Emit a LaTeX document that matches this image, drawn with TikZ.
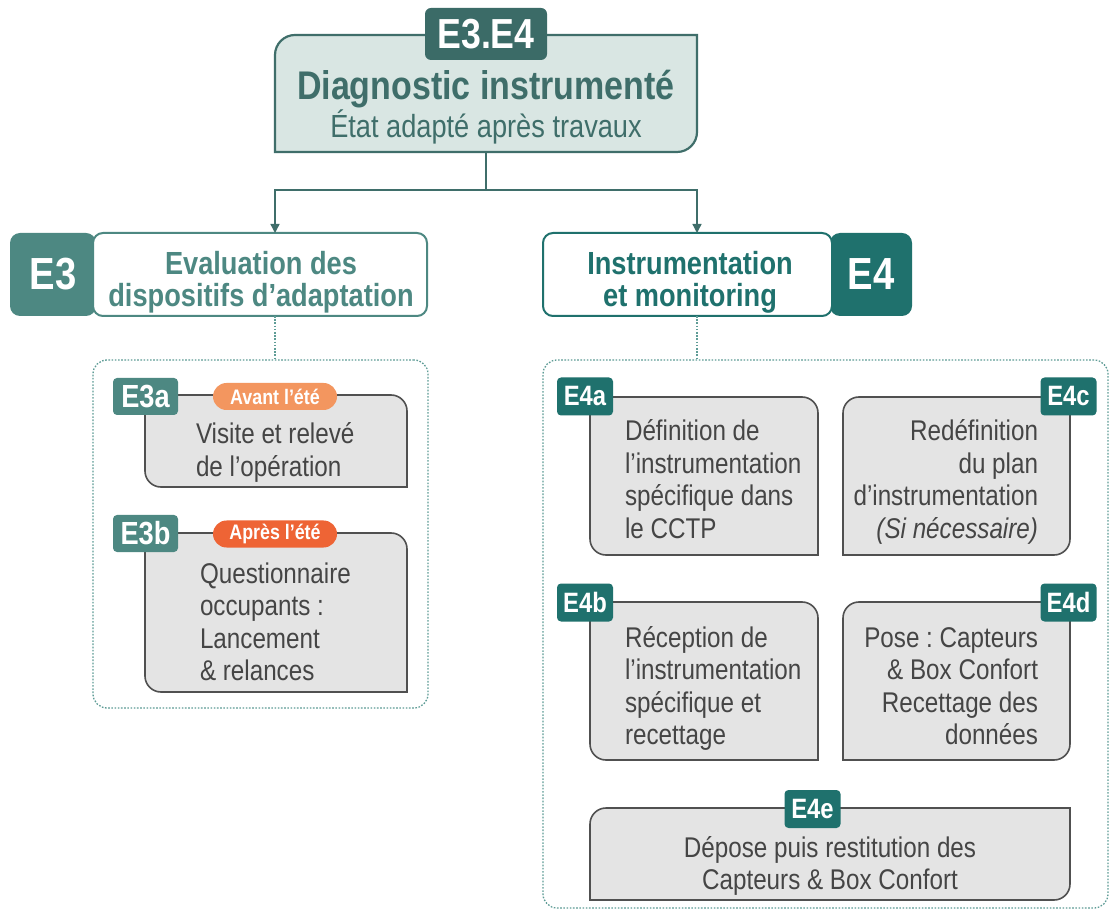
\documentclass[tikz,border=0pt]{standalone}
\usepackage{fontspec}
\setmainfont{Liberation Sans}[FakeStretch=0.85]
\frenchspacing
\usetikzlibrary{arrows.meta}
\definecolor{topfill}{HTML}{D9E6E3}
\definecolor{topline}{HTML}{3F6E6A}
\definecolor{toptag}{HTML}{3B6B67}
\definecolor{tealA}{HTML}{4D8882}
\definecolor{tealB}{HTML}{1F716D}
\definecolor{boxfill}{HTML}{E4E4E4}
\definecolor{boxline}{HTML}{505050}
\definecolor{txt}{HTML}{454545}
\definecolor{orangeA}{HTML}{F3965F}
\definecolor{orangeB}{HTML}{EE6435}
\definecolor{dotline}{HTML}{5E9C96}
\newcommand\tlbrbox[3]{%
 \draw[#2] ([yshift=-#3]#1.north west) arc[start angle=180,end angle=90,radius=#3] -- (#1.north east) -- ([yshift=#3]#1.south east) arc[start angle=0,end angle=-90,radius=#3] -- (#1.south west) -- cycle;}
\newcommand\trblbox[3]{%
 \draw[#2] (#1.north west) -- ([xshift=-#3]#1.north east) arc[start angle=90,end angle=0,radius=#3] -- (#1.south east) -- ([xshift=#3]#1.south west) arc[start angle=270,end angle=180,radius=#3] -- cycle;}
\tikzset{
 every node/.style={inner sep=0pt, outer sep=0pt},
 gbox/.style={fill=boxfill, draw=boxline, line width=1.6pt},
 tagA/.style={fill=tealA, text=white, rounded corners=4pt, minimum width=65, minimum height=37, font=\fontsize{32}{32}\selectfont\bfseries},
 tagB/.style={fill=tealB, text=white, rounded corners=4pt, minimum width=56, minimum height=38, font=\fontsize{28}{28}\selectfont\bfseries},
 pill/.style={text=white, rounded corners=13.5pt, minimum width=124, minimum height=27, font=\fontsize{21}{21}\selectfont\bfseries},
 body/.style={text=txt, text width=230, font=\fontsize{28.5}{32.5}\selectfont},
 conn/.style={draw=topline, line width=1.4pt},
 dotconn/.style={draw=dotline, line width=1.3pt, dash pattern=on 1.6pt off 1.6pt},
 arr/.style={-{Triangle[length=9pt,width=9pt]}},
}
\begin{document}
\begin{tikzpicture}[x=1pt,y=1pt]
\fill[white] (0,0) rectangle (1110,911);
\useasboundingbox (0,0) rectangle (1110,911);
% top box
\node[anchor=north west, minimum width=422, minimum height=117] (top) at (275,876) {};
\tlbrbox{top}{fill=topfill, draw=topline, line width=2.2pt}{20pt}
\node[fill=toptag, text=white, rounded corners=6pt, minimum width=122, minimum height=52, font=\fontsize{42}{42}\selectfont\bfseries] (t34) at (486,877) {E3.E4};
\node[anchor=base, text=topline, font=\fontsize{40}{40}\selectfont\bfseries] (diag) at (486,811) {Diagnostic instrumenté};
\node[anchor=base, text=topline, font=\fontsize{32}{32}\selectfont] (etat) at (486,773) {État adapté après travaux};
% headers
\node[fill=tealA, text=white, rounded corners=10pt, minimum width=86, minimum height=83, anchor=north west, font=\fontsize{45}{45}\selectfont\bfseries] (e3tag) at (10,678) {E3};
\node[draw=tealA, fill=white, line width=2pt, rounded corners=10pt, minimum width=334, minimum height=83, anchor=north west] (e3h) at (93,678) {};
\node[anchor=base, text width=330, align=flush center, text=tealA, font=\fontsize{32}{32}\selectfont\bfseries] (e3ht) at (261,636) {Evaluation des\\dispositifs d’adaptation};
\node[fill=tealB, text=white, rounded corners=10pt, minimum width=82, minimum height=83, anchor=north west, font=\fontsize{45}{45}\selectfont\bfseries] (e4tag) at (830,678) {E4};
\node[draw=tealB, fill=white, line width=2pt, rounded corners=10pt, minimum width=289, minimum height=83, anchor=north west] (e4h) at (543,678) {};
\node[anchor=base, text width=285, align=flush center, text=tealB, font=\fontsize{32}{32}\selectfont\bfseries] (e4ht) at (690,636) {Instrumentation\\et monitoring};
% connectors
\coordinate (split) at (486,721);
\draw[conn] (top.south) -- (split);
\draw[conn,arr] (split) -| ([xshift=15pt]e3h.north);
\draw[conn,arr] (split) -| ([xshift=9.5pt]e4h.north);
% containers
\node[dotconn, rounded corners=14pt, minimum width=335, minimum height=348, anchor=north west] (c3) at (93,551) {};
\node[dotconn, rounded corners=14pt, minimum width=565, minimum height=548, anchor=north west] (c4) at (543,551) {};
\draw[dotconn] ([xshift=15pt]e3h.south) -- ([xshift=15pt]e3h.south |- c3.north);
\draw[dotconn] ([xshift=9.5pt]e4h.south) -- ([xshift=9.5pt]e4h.south |- c4.north);
% E3a
\node[anchor=north west, minimum width=262, minimum height=92] (e3a) at (145,516) {};
\trblbox{e3a}{gbox}{16pt}
\node[tagA] (e3at) at (145.5,514.5) {E3a};
\node[pill, fill=orangeA] (e3ap) at (275,514.5) {Avant l’été};
\node[body, anchor=base west, align=flush left] (e3ax) at (196,467) {Visite et relevé\\de l’opération};
% E3b
\node[anchor=north west, minimum width=262, minimum height=159] (e3b) at (145,378) {};
\trblbox{e3b}{gbox}{16pt}
\node[tagA] (e3bt) at (145.5,377.5) {E3b};
\node[pill, fill=orangeB] (e3bp) at (275,377) {Après l’été};
\node[body, anchor=base west, align=flush left] (e3bx) at (200,328) {Questionnaire\\occupants :\\Lancement\\\& relances};
% E4a
\node[anchor=north west, minimum width=228, minimum height=158] (e4a) at (590,514) {};
\trblbox{e4a}{gbox}{16pt}
\node[tagB] (e4at) at (585,514.5) {E4a};
\node[body, anchor=base west, align=flush left] (e4ax) at (625,470) {Définition de\\l’instrumentation\\spécifique dans\\le CCTP};
% E4c
\node[anchor=north west, minimum width=227, minimum height=158] (e4c) at (843,514) {};
\tlbrbox{e4c}{gbox}{16pt}
\node[tagB] (e4ct) at (1068.5,514.5) {E4c};
\node[body, anchor=base east, align=flush right] (e4cx) at (1038,470) {Redéfinition\\du plan\\d’instrumentation\\\textit{(Si nécessaire)}};
% E4b
\node[anchor=north west, minimum width=228, minimum height=158] (e4b) at (590,309) {};
\trblbox{e4b}{gbox}{16pt}
\node[tagB] (e4bt) at (585,308.5) {E4b};
\node[body, anchor=base west, align=flush left] (e4bx) at (625,264) {Réception de\\l’instrumentation\\spécifique et\\recettage};
% E4d
\node[anchor=north west, minimum width=227, minimum height=158] (e4d) at (843,309) {};
\tlbrbox{e4d}{gbox}{16pt}
\node[tagB] (e4dt) at (1068.5,308.5) {E4d};
\node[body, anchor=base east, align=flush right] (e4dx) at (1038,264) {Pose : Capteurs\\\& Box Confort\\Recettage des\\données};
% E4e
\node[anchor=north west, minimum width=480, minimum height=92] (e4e) at (590,103) {};
\tlbrbox{e4e}{gbox}{16pt}
\node[tagB] (e4et) at (812.5,102) {E4e};
\node[body, text width=460, anchor=base, align=flush center] (e4ex) at (830,54) {Dépose puis restitution des\\Capteurs \& Box Confort};
\end{tikzpicture}
\end{document}
